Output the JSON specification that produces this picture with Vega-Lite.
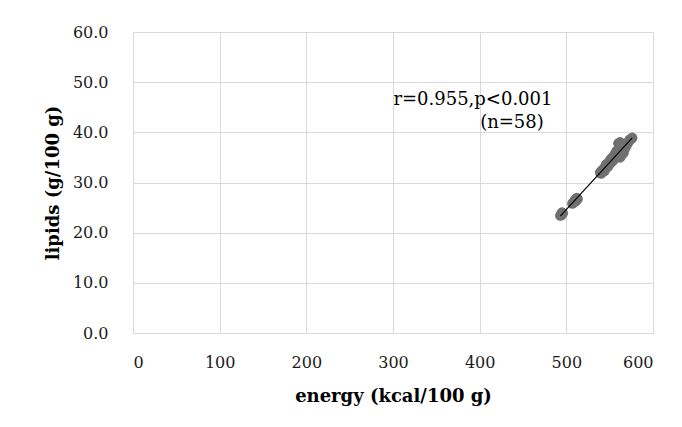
{
  "$schema": "https://vega.github.io/schema/vega-lite/v6.json",
  "width": 520,
  "height": 301,
  "autosize": {"type": "none"},
  "padding": {"left": 133, "top": 32, "right": 29, "bottom": 94},
  "background": "white",
  "config": {
    "view": {"stroke": null},
    "font": "DejaVu Serif",
    "axis": {
      "labelFont": "DejaVu Serif",
      "titleFont": "DejaVu Serif",
      "labelFontSize": 16,
      "titleFontSize": 18,
      "titleFontWeight": "bold",
      "labelColor": "#1a1a1a",
      "titleColor": "#000000",
      "gridColor": "#d9d9d9",
      "domainColor": "#d9d9d9",
      "ticks": false
    }
  },
  "datasets": {
    "pts": [
      {"energy": 493, "lipids": 23.4}, {"energy": 494, "lipids": 23.7}, {"energy": 495, "lipids": 24.0},
      {"energy": 496, "lipids": 23.9}, {"energy": 494.5, "lipids": 23.5},
      {"energy": 507, "lipids": 25.8}, {"energy": 509, "lipids": 26.1}, {"energy": 510, "lipids": 26.5},
      {"energy": 511, "lipids": 26.3}, {"energy": 512, "lipids": 26.9}, {"energy": 513, "lipids": 26.7},
      {"energy": 539, "lipids": 32.0}, {"energy": 540, "lipids": 31.8}, {"energy": 541, "lipids": 32.4},
      {"energy": 542, "lipids": 32.2}, {"energy": 543, "lipids": 32.6}, {"energy": 544, "lipids": 32.9},
      {"energy": 544, "lipids": 32.3}, {"energy": 545, "lipids": 33.2}, {"energy": 546, "lipids": 33.0},
      {"energy": 546, "lipids": 33.6}, {"energy": 547, "lipids": 33.4}, {"energy": 548, "lipids": 33.8},
      {"energy": 548, "lipids": 33.2}, {"energy": 549, "lipids": 34.0}, {"energy": 550, "lipids": 34.3},
      {"energy": 550, "lipids": 33.7}, {"energy": 551, "lipids": 34.5}, {"energy": 552, "lipids": 34.1},
      {"energy": 552, "lipids": 34.8}, {"energy": 553, "lipids": 34.6}, {"energy": 554, "lipids": 35.0},
      {"energy": 554, "lipids": 34.4}, {"energy": 555, "lipids": 35.3}, {"energy": 556, "lipids": 35.1},
      {"energy": 556, "lipids": 35.7}, {"energy": 557, "lipids": 35.5}, {"energy": 558, "lipids": 35.9},
      {"energy": 558, "lipids": 36.3}, {"energy": 559, "lipids": 36.1}, {"energy": 560, "lipids": 36.5},
      {"energy": 560, "lipids": 37.8}, {"energy": 561, "lipids": 37.6}, {"energy": 562, "lipids": 38.0},
      {"energy": 562, "lipids": 35.0}, {"energy": 563, "lipids": 35.3}, {"energy": 564, "lipids": 35.6},
      {"energy": 565, "lipids": 36.2}, {"energy": 566, "lipids": 35.9}, {"energy": 567, "lipids": 36.6},
      {"energy": 568, "lipids": 37.0}, {"energy": 569, "lipids": 37.3}, {"energy": 570, "lipids": 37.6},
      {"energy": 571, "lipids": 37.9}, {"energy": 572, "lipids": 38.2}, {"energy": 573, "lipids": 38.5},
      {"energy": 575, "lipids": 38.7}, {"energy": 576, "lipids": 38.9}
    ],
    "notes": [
      {"energy": 484, "lipids": 46.4, "label": "r=0.955,p<0.001"},
      {"energy": 474, "lipids": 41.8, "label": "(n=58)"}
    ]
  },
  "layer": [
    {
      "data": {"name": "pts"},
      "mark": {"type": "point", "filled": true, "shape": "circle", "size": 110, "color": "#707070", "opacity": 1},
      "encoding": {
        "x": {
          "field": "energy", "type": "quantitative",
          "scale": {"domain": [0, 600], "nice": false, "zero": false},
          "axis": {"values": [0, 100, 200, 300, 400, 500, 600], "title": "energy (kcal/100 g)", "labelPadding": 21, "titlePadding": 17}
        },
        "y": {
          "field": "lipids", "type": "quantitative",
          "scale": {"domain": [0, 60], "nice": false},
          "axis": {"values": [0, 10, 20, 30, 40, 50, 60], "format": ".1f", "title": "lipids (g/100 g)", "labelPadding": 25, "titlePadding": 10}
        }
      }
    },
    {
      "data": {"name": "pts"},
      "transform": [{"regression": "lipids", "on": "energy"}],
      "mark": {"type": "line", "color": "#000000", "strokeWidth": 1.2},
      "encoding": {
        "x": {"field": "energy", "type": "quantitative"},
        "y": {"field": "lipids", "type": "quantitative"}
      }
    },
    {
      "data": {"name": "notes"},
      "mark": {"type": "text", "align": "right", "baseline": "middle", "fontSize": 18, "font": "DejaVu Serif", "color": "#000000"},
      "encoding": {
        "x": {"field": "energy", "type": "quantitative"},
        "y": {"field": "lipids", "type": "quantitative"},
        "text": {"field": "label"}
      }
    }
  ]
}
